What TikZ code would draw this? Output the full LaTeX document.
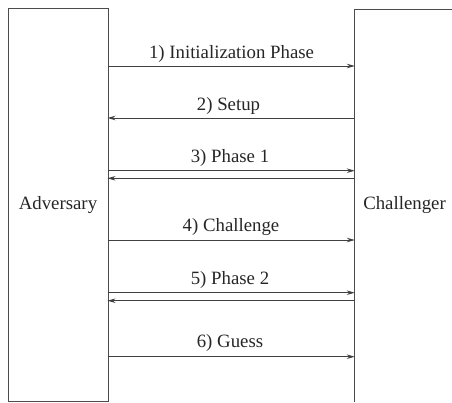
\documentclass[tikz,border=0pt]{standalone}
\usepackage{fontspec}
\setmainfont{Liberation Serif}
\usetikzlibrary{arrows.meta}
\begin{document}
\begin{tikzpicture}[x=1pt,y=-1pt,
  every node/.style={font=\fontsize{18.8}{22}\selectfont, text=black!85, inner sep=0pt},
  boxline/.style={draw=black!70, line width=1pt},
  msg/.style={draw=black!75, line width=0.9pt, -{Stealth[length=8pt,width=4.5pt]}},
  lbl/.style={anchor=base}]
\useasboundingbox (0,0) rectangle (452,402);
% Adversary box
\node[boxline, minimum width=100pt, minimum height=393.5pt, anchor=north west] (adv) at (7.5,7.5) {Adversary};
% Challenger box (open to right and bottom)
\draw[boxline] (452,9.3) -- (354.8,9.3) -- (354.8,402);
\node[anchor=base] (chal) at (404.5,209) {Challenger};
% coordinates on lifelines
\foreach \n/\y in {1/66,2/118,3/170.7,3b/178.3,4/240,5/292.7,5b/300.7,6/356.7}{
  \coordinate (a\n) at (107.5,\y);
  \coordinate (c\n) at (354.8,\y);
}
\draw[msg] (a1) -- (c1);
\draw[msg] (c2) -- (a2);
\draw[msg] (a3) -- (c3);
\draw[msg] (c3b) -- (a3b);
\draw[msg] (a4) -- (c4);
\draw[msg] (a5) -- (c5);
\draw[msg] (c5b) -- (a5b);
\draw[msg] (a6) -- (c6);
% labels
\node[lbl] (l1) at (231.5,58) {1) Initialization Phase};
\node[lbl] (l2) at (228.5,110) {2) Setup};
\node[lbl] (l3) at (230,162.5) {3) Phase 1};
\node[lbl] (l4) at (231,231.5) {4) Challenge};
\node[lbl] (l5) at (230,284.3) {5) Phase 2};
\node[lbl] (l6) at (230,347.5) {6) Guess};
\end{tikzpicture}
\end{document}
